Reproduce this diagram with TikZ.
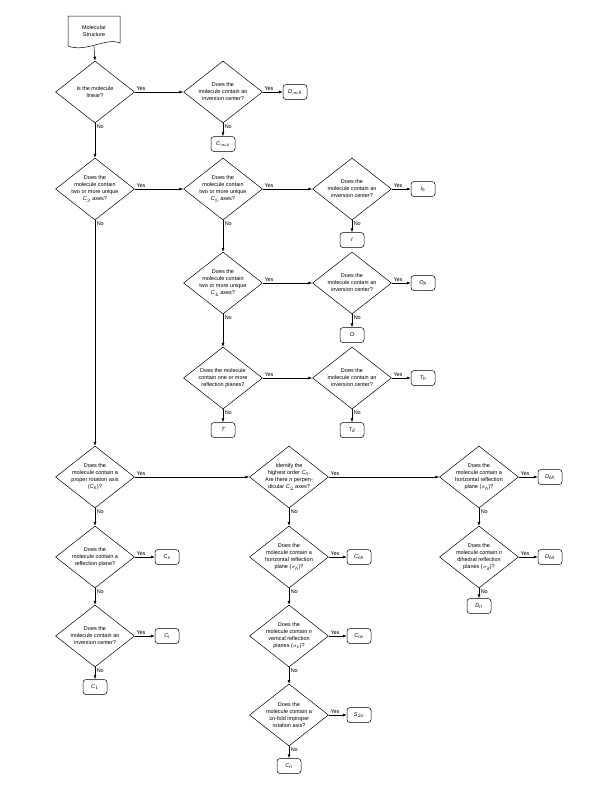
\documentclass[tikz,border=0pt]{standalone}
\usepackage{fontspec}
\setmainfont{Liberation Sans}
\usepackage[italic]{mathastext}
\usetikzlibrary{shapes.geometric,arrows.meta}

\begin{document}
\begin{tikzpicture}[x=1pt,y=-1pt,
  every node/.style={font=\fontsize{5.5}{7}\selectfont},
  decision/.style={diamond, draw, line width=0.5pt, minimum width=79, minimum height=62, inner sep=0pt},
  group/.style={draw, line width=0.5pt, rounded corners=3pt, minimum width=24, minimum height=15, inner sep=1pt},
  flow/.style={-{Latex[length=4pt,width=3pt]}, line width=0.5pt},
  yes/.style={above right, pos=0, inner sep=1.5pt},
  no/.style={below right, pos=0, inner sep=1.5pt}]
  \useasboundingbox (0,0) rectangle (611,788);
  % start
  \node[minimum width=52, minimum height=30, inner sep=0pt, align=center] (start) at (94,31) {Molecular\\Structure};
  \draw[line width=0.5pt] (68,46) -- (68,16) -- (120,16) -- (120,43) .. controls (106,37) and (86,53) .. (68,46);
  % linear molecules
  \node[decision, label={[align=center]center:{Is the molecule\\linear?}}] (linear) at (95,92) {};
  \node[decision, label={[align=center]center:{Does the\\molecule contain an\\inversion center?}}] (invlin) at (223,92) {};
  \node[group] (Dinfh) at (295,92) {$D_{\infty h}$};
  \node[group] (Cinfv) at (223,144) {$C_{\infty v}$};
  % high symmetry
  \node[decision, label={[align=center]center:{Does the\\molecule contain\\two or more unique\\$C_3$ axes?}}] (cthree) at (95,189) {};
  \node[decision, label={[align=center]center:{Does the\\molecule contain\\two or more unique\\$C_5$ axes?}}] (cfive) at (223,189) {};
  \node[decision, label={[align=center]center:{Does the\\molecule contain an\\inversion center?}}] (invI) at (352,189) {};
  \node[group] (Ih) at (423,189) {$I_h$};
  \node[group] (I) at (352,240) {$I$};
  \node[decision, label={[align=center]center:{Does the\\molecule contain\\two or more unique\\$C_4$ axes?}}] (cfour) at (223,283) {};
  \node[decision, label={[align=center]center:{Does the\\molecule contain an\\inversion center?}}] (invO) at (352,283) {};
  \node[group] (Oh) at (423,283) {$O_h$};
  \node[group] (O) at (352,335) {$O$};
  \node[decision, label={[align=center]center:{Does the molecule\\contain one or more\\reflection planes?}}] (refT) at (223,378) {};
  \node[decision, label={[align=center]center:{Does the\\molecule contain an\\inversion center?}}] (invT) at (352,378) {};
  \node[group] (Th) at (423,378) {$T_h$};
  \node[group] (T) at (223,430) {$T$};
  \node[group] (Td) at (352,430) {$T_d$};
  % low symmetry
  \node[decision, label={[align=center]center:{Does the\\molecule contain a\\proper rotation axis\\($C_n$)?}}] (rotaxis) at (95,477) {};
  \node[decision, label={[align=center]center:{Does the\\molecule contain a\\reflection plane?}}] (refplane) at (95,557) {};
  \node[group] (Cs) at (167,557) {$C_s$};
  \node[decision, label={[align=center]center:{Does the\\molecule contain an\\inversion center?}}] (invcenter) at (95,636) {};
  \node[group] (Ci) at (167,636) {$C_i$};
  \node[group] (Cone) at (95,687) {$C_1$};
  % C_n groups
  \node[decision, label={[align=center]center:{Identify the\\highest order $C_n$.\\Are there $n$ perpen-\\dicular $C_2$ axes?}}] (perpc) at (289,477) {};
  \node[decision, label={[align=center]center:{Does the\\molecule contain a\\horizontal reflection\\plane ($\sigma_h$)?}}] (sigmahc) at (289,557) {};
  \node[group] (Cnh) at (359,557) {$C_{nh}$};
  \node[decision, label={[align=center]center:{Does the\\molecule contain $n$\\vertical reflection\\planes ($\sigma_v$)?}}] (sigmav) at (289,636) {};
  \node[group] (Cnv) at (359,636) {$C_{nv}$};
  \node[decision, label={[align=center]center:{Does the\\molecule contain a\\$2n$-fold improper\\rotation axis?}}] (improper) at (289,715) {};
  \node[group] (Stwon) at (359,715) {$S_{2n}$};
  \node[group] (Cn) at (289,766) {$C_n$};
  % D_n groups
  \node[decision, label={[align=center]center:{Does the\\molecule contain a\\horizontal reflection\\plane ($\sigma_h$)?}}] (sigmah) at (479,477) {};
  \node[group] (Dnh) at (550,477) {$D_{nh}$};
  \node[decision, label={[align=center]center:{Does the\\molecule contain $n$\\dihedral reflection\\planes ($\sigma_d$)?}}] (sigmad) at (479,557) {};
  \node[group] (Dnd) at (550,557) {$D_{nd}$};
  \node[group] (Dn) at (479,606) {$D_n$};
  % connectors
  \draw[flow] (start.south) -- (linear.north);
  \draw[flow] (linear.east) -- (invlin.west) node[yes] {Yes};
  \draw[flow] (invlin.east) -- (Dinfh.west) node[yes] {Yes};
  \draw[flow] (invlin.south) -- (Cinfv.north) node[no] {No};
  \draw[flow] (linear.south) -- (cthree.north) node[no] {No};
  \draw[flow] (cthree.east) -- (cfive.west) node[yes] {Yes};
  \draw[flow] (cfive.east) -- (invI.west) node[yes] {Yes};
  \draw[flow] (invI.east) -- (Ih.west) node[yes] {Yes};
  \draw[flow] (invI.south) -- (I.north) node[no] {No};
  \draw[flow] (cfive.south) -- (cfour.north) node[no] {No};
  \draw[flow] (cfour.east) -- (invO.west) node[yes] {Yes};
  \draw[flow] (invO.east) -- (Oh.west) node[yes] {Yes};
  \draw[flow] (invO.south) -- (O.north) node[no] {No};
  \draw[flow] (cfour.south) -- (refT.north) node[no] {No};
  \draw[flow] (refT.east) -- (invT.west) node[yes] {Yes};
  \draw[flow] (invT.east) -- (Th.west) node[yes] {Yes};
  \draw[flow] (invT.south) -- (Td.north) node[no] {No};
  \draw[flow] (refT.south) -- (T.north) node[no] {No};
  \draw[flow] (cthree.south) -- (rotaxis.north) node[no] {No};
  \draw[flow] (rotaxis.east) -- (perpc.west) node[yes] {Yes};
  \draw[flow] (rotaxis.south) -- (refplane.north) node[no] {No};
  \draw[flow] (refplane.east) -- (Cs.west) node[yes] {Yes};
  \draw[flow] (refplane.south) -- (invcenter.north) node[no] {No};
  \draw[flow] (invcenter.east) -- (Ci.west) node[yes] {Yes};
  \draw[flow] (invcenter.south) -- (Cone.north) node[no] {No};
  \draw[flow] (perpc.east) -- (sigmah.west) node[yes] {Yes};
  \draw[flow] (perpc.south) -- (sigmahc.north) node[no] {No};
  \draw[flow] (sigmahc.east) -- (Cnh.west) node[yes] {Yes};
  \draw[flow] (sigmahc.south) -- (sigmav.north) node[no] {No};
  \draw[flow] (sigmav.east) -- (Cnv.west) node[yes] {Yes};
  \draw[flow] (sigmav.south) -- (improper.north) node[no] {No};
  \draw[flow] (improper.east) -- (Stwon.west) node[yes] {Yes};
  \draw[flow] (improper.south) -- (Cn.north) node[no] {No};
  \draw[flow] (sigmah.east) -- (Dnh.west) node[yes] {Yes};
  \draw[flow] (sigmah.south) -- (sigmad.north) node[no] {No};
  \draw[flow] (sigmad.east) -- (Dnd.west) node[yes] {Yes};
  \draw[flow] (sigmad.south) -- (Dn.north) node[no] {No};
\end{tikzpicture}
\end{document}
